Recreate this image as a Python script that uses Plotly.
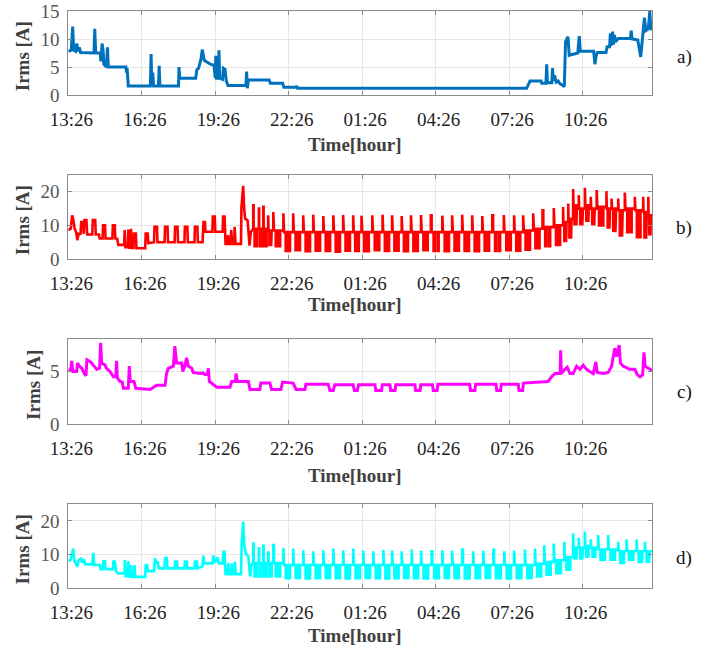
import plotly.graph_objects as go

# Time axis: hours elapsed since 13:26
tick_hours = [0, 3, 6, 9, 12, 15, 18, 21]
tick_labels = ["13:26", "16:26", "19:26", "22:26", "01:26", "04:26", "07:26", "10:26"]
end_hour = 23.83

# a) total current
a_hours = [0.00, 0.12, 0.18, 0.22, 0.30, 0.35, 0.38, 0.45, 0.50, 1.05, 1.08, 1.12, 1.30, 1.33, 1.38,
           1.42, 1.45, 1.55, 1.60, 1.63, 2.35, 2.38, 2.40, 2.45, 3.35, 3.38, 3.41, 3.45, 3.48, 3.68,
           3.71, 3.74, 4.50, 4.52, 4.55, 5.20, 5.25, 5.32, 5.42, 5.47, 5.55, 5.70, 5.80, 5.95, 6.00,
           6.02, 6.05, 6.12, 6.15, 6.18, 6.30, 6.33, 6.40, 6.45, 6.52, 7.25, 7.28, 7.31, 7.35, 8.20,
           8.25, 8.75, 8.80, 9.30, 9.33, 9.36, 18.71, 18.85, 19.30, 19.33, 19.50, 19.53, 19.56, 19.74,
           19.77, 19.80, 19.85, 19.92, 20.00, 20.05, 20.25, 20.30, 20.35, 20.40, 20.45, 20.80, 20.86,
           20.90, 21.45, 21.50, 21.55, 21.60, 21.95, 22.00, 22.10, 22.13, 22.16, 22.22, 22.26, 22.30,
           22.34, 22.45, 22.95, 22.98, 23.02, 23.25, 23.37, 23.45, 23.52, 23.58, 23.68, 23.74, 23.78,
           23.83]
a_amps = [7.8, 8.0, 12.2, 8.0, 7.8, 9.2, 7.8, 8.5, 7.6, 7.5, 11.8, 7.5, 7.5, 6.0, 9.2,
          8.0, 5.5, 5.0, 8.5, 5.0, 5.0, 4.0, 4.8, 1.6, 1.6, 7.3, 1.6, 4.0, 1.6, 1.6,
          5.2, 1.6, 1.6, 5.0, 3.0, 3.0, 4.5, 4.8, 6.5, 8.1, 6.2, 5.8, 5.5, 5.3, 3.0,
          7.0, 3.0, 3.0, 8.0, 3.0, 2.8, 4.8, 4.6, 2.5, 1.7, 1.7, 4.2, 1.2, 2.7, 2.7,
          2.1, 2.1, 1.4, 1.4, 1.6, 1.2, 1.2, 2.5, 2.5, 2.1, 2.1, 5.5, 2.2, 2.2,
          4.8, 2.5, 3.5, 2.3, 2.5, 2.1, 1.5, 9.5, 10.1, 10.4, 7.1, 7.5, 10.5,
          7.8, 7.8, 5.5, 7.0, 7.6, 7.6, 8.6, 8.6, 11.0, 8.8, 11.3, 9.0, 10.7,
          9.5, 10.1, 10.1, 11.5, 10.0, 9.8, 6.8, 10.5, 13.8, 11.5, 11.8, 15.0, 12.0,
          11.6]

# b) phase current, irregular daytime part
b_hours = [0.00, 0.10, 0.16, 0.20, 0.26, 0.32, 0.37, 0.42, 0.50, 0.53, 0.60, 0.63, 0.66, 0.74, 0.77,
           0.98, 1.00, 1.10, 1.12, 1.25, 1.28, 1.40, 1.42, 1.50, 1.52, 1.80, 1.82, 1.90, 1.92, 2.00,
           2.04, 2.28, 2.30, 2.33, 2.43, 2.45, 2.48, 2.54, 2.56, 2.59, 2.66, 2.68, 2.76, 2.78, 3.14,
           3.16, 3.24, 3.27, 3.50, 3.52, 3.62, 3.64, 3.93, 3.95, 4.05, 4.07, 4.34, 4.36, 4.46, 4.48,
           4.74, 4.76, 4.86, 4.88, 5.15, 5.17, 5.27, 5.29, 5.48, 5.50, 5.52, 5.58, 5.60, 5.88, 5.90,
           5.98, 6.00, 6.30, 6.32, 6.38, 6.40, 6.42, 6.50, 6.52, 6.55, 6.63, 6.65, 6.69, 6.77, 6.79,
           6.83, 7.05, 7.07, 7.14, 7.18, 7.22, 7.32, 7.40, 7.45]
b_amps = [8.6, 9.0, 13.0, 12.0, 9.0, 8.0, 5.6, 7.5, 7.5, 11.0, 11.0, 7.5, 11.6, 11.6, 7.3,
          7.3, 11.6, 11.6, 7.3, 7.3, 6.1, 6.1, 10.0, 10.0, 6.1, 6.1, 10.0, 10.0, 6.1, 6.0,
          4.2, 4.2, 8.6, 3.5, 3.5, 8.8, 3.4, 3.4, 9.0, 3.3, 3.3, 7.6, 7.6, 3.2, 3.2,
          7.6, 7.6, 4.7, 5.0, 9.6, 9.6, 5.0, 5.0, 9.6, 9.6, 5.0, 5.0, 9.6, 9.6, 5.0,
          5.0, 9.6, 9.6, 5.0, 5.0, 9.6, 9.6, 5.0, 5.0, 8.1, 11.0, 11.0, 8.1, 8.1, 12.6,
          12.6, 8.1, 8.1, 12.6, 12.6, 8.1, 4.5, 4.5, 7.1, 4.5, 4.5, 8.6, 4.5, 4.5, 9.6,
          4.5, 4.5, 15.5, 21.8, 15.0, 12.0, 11.5, 4.0, 8.0]

# b) switching cycles: peak start, peak level, plateau level, dip level
b_peak_hours = [7.55, 7.78, 7.96, 8.16, 8.37, 8.78, 9.18, 9.59, 10.00, 10.41, 10.82, 11.22, 11.63,
                11.97, 12.41, 12.83, 13.22, 13.61, 13.99, 14.40, 14.80, 15.27, 15.67, 16.08, 16.49,
                16.90, 17.31, 17.78, 18.20, 18.57, 18.98, 19.36, 19.82, 20.20, 20.41, 20.61, 20.84,
                21.09, 21.33, 21.57, 21.97, 22.18, 22.45, 22.72, 23.13, 23.47, 23.68]
b_peak_amps = [16.0, 15.0, 15.5, 13.0, 14.0, 13.6, 13.6,
               13.0, 13.2, 12.8, 13.0, 13.1, 13.0, 12.9, 13.0, 13.2, 13.0, 12.8, 13.0, 13.1, 13.0,
               12.9, 13.0, 13.2, 13.0, 12.8, 13.0, 13.1, 13.0, 13.0,
               13.6, 14.5, 15.2, 15.5, 16.5, 20.8, 19.0, 21.2, 18.5, 20.5, 20.2, 18.0, 18.0, 19.8,
               18.5, 18.5, 18.5]
b_base_amps = [9.0, 9.0, 9.0, 8.5, 8.5,
               8.0, 8.0, 8.0, 8.0, 8.0, 8.0, 8.0, 8.0, 8.0, 8.0, 8.0, 8.0, 8.0, 8.0, 8.0, 8.0,
               8.0, 8.0, 8.0, 8.0, 8.0, 8.0, 8.0, 8.0,
               8.5, 9.0, 9.5, 10.0, 11.0, 12.0,
               16.0, 15.0, 16.0, 15.0, 15.5, 15.0, 15.0, 14.5, 15.0, 14.5, 14.0, 13.0]
b_low_amps = [3.8, 3.8, 3.8, 3.8, 3.8,
              2.4, 2.6, 2.3, 2.5, 2.4, 2.2, 2.5, 2.4, 2.3, 2.6, 2.4, 2.5, 2.3, 2.4, 2.6, 2.4,
              2.3, 2.5, 2.4, 2.3, 2.5, 2.4, 2.6, 2.5,
              2.8, 3.2, 3.8, 4.2, 5.0, 6.0,
              10.0, 10.0, 11.0, 10.0, 10.0, 9.0, 8.0, 6.6, 8.0, 6.5, 6.0, 7.0]

# c) phase current
c_hours = [0.00, 0.10, 0.14, 0.18, 0.34, 0.38, 0.45, 0.55, 0.65, 0.72, 0.76, 0.85, 0.91, 1.02, 1.16,
           1.28, 1.32, 1.36, 1.50, 1.56, 1.70, 1.84, 1.94, 1.97, 2.00, 2.11, 2.20, 2.25, 2.45, 2.49,
           2.53, 2.68, 2.76, 3.34, 3.40, 3.55, 3.61, 3.95, 4.01, 4.08, 4.29, 4.35, 4.42, 4.63, 4.67,
           4.76, 4.83, 4.90, 5.04, 5.10, 5.37, 5.51, 5.58, 5.68, 5.72, 5.76, 5.90, 6.06, 6.60, 6.67,
           6.82, 6.85, 6.90, 7.35, 7.42, 7.82, 7.86, 8.23, 8.30, 8.68, 8.75, 9.18, 9.30, 9.66, 9.70,
           10.61, 10.68, 10.82, 10.88, 11.63, 11.68, 11.80, 11.85, 12.52, 12.55, 12.79, 12.82, 13.13,
           13.16, 13.34, 13.37, 14.15, 14.18, 14.36, 14.39, 14.87, 14.90, 15.06, 15.09, 16.39, 16.42,
           16.60, 16.63, 17.46, 17.49, 17.65, 17.68, 18.37, 18.40, 18.55, 18.58, 19.00, 19.59, 19.73,
           19.87, 20.00, 20.08, 20.10, 20.13, 20.27, 20.37, 20.48, 20.61, 20.75, 20.89, 21.02, 21.16,
           21.29, 21.43, 21.54, 21.59, 21.84, 22.04, 22.18, 22.31, 22.38, 22.49, 22.54, 22.65, 22.92,
           23.13, 23.23, 23.34, 23.45, 23.50, 23.55, 23.68, 23.83]
c_amps = [5.1, 5.2, 6.0, 5.0, 5.0, 5.8, 5.5, 5.3, 4.8, 4.6, 6.1, 6.0, 5.9, 5.6, 5.2,
          5.3, 7.7, 5.8, 5.6, 5.3, 5.0, 4.5, 4.5, 6.0, 4.4, 4.05, 4.0, 3.4, 3.4, 5.5,
          4.05, 4.05, 3.4, 3.3, 3.4, 3.6, 3.7, 3.7, 4.8, 5.3, 5.5, 7.4, 5.8, 5.8, 5.0,
          5.5, 6.3, 5.5, 5.3, 4.9, 4.8, 4.85, 4.7, 4.7, 5.3, 4.05, 3.8, 3.5, 3.5, 4.05,
          4.05, 4.8, 4.05, 4.05, 3.3, 3.3, 3.9, 3.9, 3.3, 3.3, 4.0, 3.9, 3.3, 3.3, 3.8,
          3.8, 3.2, 3.2, 3.75, 3.75, 3.2, 3.2, 3.75, 3.75, 3.2, 3.2, 3.75, 3.75,
          3.2, 3.2, 3.75, 3.75, 3.2, 3.2, 3.75, 3.75, 3.2, 3.2, 3.8, 3.8, 3.2,
          3.2, 3.8, 3.8, 3.2, 3.2, 3.8, 3.8, 3.2, 3.2, 3.9, 3.95, 4.05, 4.5,
          4.8, 4.8, 4.8, 7.0, 4.8, 5.2, 5.4, 4.8, 4.8, 5.5, 5.2, 5.6, 5.2,
          5.0, 4.8, 5.9, 4.9, 4.8, 4.9, 5.5, 7.2, 6.4, 7.5, 5.8, 5.5, 5.2,
          5.2, 4.7, 4.5, 4.7, 6.8, 5.5, 5.3, 5.1]

# d) phase current, irregular daytime part
d_hours = [0.00, 0.10, 0.20, 0.25, 0.30, 0.37, 0.42, 0.52, 0.56, 0.64, 0.70, 0.98, 1.02, 1.06, 1.28,
           1.32, 1.40, 1.43, 1.50, 1.52, 1.82, 1.84, 1.90, 1.95, 2.04, 2.30, 2.31, 2.34, 2.43, 2.45,
           2.48, 2.54, 2.56, 2.60, 2.68, 2.70, 2.74, 3.14, 3.16, 3.22, 3.25, 3.50, 3.54, 3.60, 3.64,
           3.70, 3.92, 3.95, 4.02, 4.05, 4.34, 4.36, 4.44, 4.46, 4.74, 4.76, 4.84, 4.86, 5.15, 5.17,
           5.25, 5.27, 5.48, 5.51, 5.56, 5.88, 5.92, 5.98, 6.10, 6.15, 6.30, 6.33, 6.38, 6.40, 6.42,
           6.50, 6.53, 6.56, 6.65, 6.67, 6.70, 6.78, 6.80, 6.84, 7.05, 7.08, 7.14, 7.18, 7.25, 7.35,
           7.42, 7.48]
d_amps = [8.1, 8.5, 11.8, 8.0, 7.5, 6.4, 8.4, 8.8, 7.6, 8.6, 7.1, 7.1, 10.5, 7.0, 6.9,
          5.7, 5.7, 8.0, 8.0, 5.7, 5.7, 7.9, 7.9, 5.0, 4.4, 4.4, 8.4, 3.6, 3.6, 8.1,
          3.5, 3.5, 6.9, 3.4, 3.4, 6.9, 3.4, 3.4, 6.9, 6.9, 5.1, 5.1, 8.9, 7.5, 8.0,
          5.9, 5.9, 9.0, 9.0, 5.9, 5.9, 7.9, 7.9, 5.9, 5.9, 7.9, 7.9, 5.9, 5.9, 7.9,
          7.9, 5.9, 6.5, 9.7, 7.4, 7.4, 9.7, 7.6, 9.2, 7.4, 7.4, 10.8, 10.8, 7.4, 4.2,
          4.2, 7.4, 4.2, 4.2, 7.4, 4.2, 4.2, 7.9, 4.2, 4.2, 13.3, 19.8, 13.0, 10.3, 9.5,
          3.5, 7.0]

# d) switching cycles
d_peak_hours = [7.55, 7.78, 7.96, 8.16, 8.37, 8.78, 9.18, 9.59, 10.00, 10.41, 10.82, 11.22, 11.63,
                12.04, 12.45, 12.86, 13.22, 13.61, 14.02, 14.40, 14.83, 15.27, 15.67, 16.08, 16.53,
                16.94, 17.35, 17.80, 18.20, 18.64, 19.05, 19.43, 19.82, 20.25, 20.61, 20.84, 21.09,
                21.33, 21.63, 22.04, 22.45, 22.79, 23.20, 23.54]
d_peak_amps = [13.3, 11.8, 12.6, 10.6, 12.8,
               12.0, 11.8, 11.3, 11.0, 11.3, 11.8, 11.3, 11.8,
               11.2, 11.0, 11.4, 11.2, 11.0, 11.5, 11.2, 11.0, 11.3, 11.2, 11.5, 11.0, 11.2, 11.4,
               11.0, 11.2, 11.5,
               11.8, 12.8, 13.3, 13.8, 16.3, 15.0, 16.8, 14.5, 15.8, 15.8, 13.8, 14.5, 14.5, 13.8]
d_base_amps = [7.5, 7.5, 7.5, 7.5, 7.5,
               6.9, 6.9, 6.9, 6.9, 6.9, 6.9, 6.9, 6.9, 6.9, 6.9, 6.9, 6.9, 6.9, 6.9, 6.9, 6.9,
               6.9, 6.9, 6.9, 6.9, 6.9, 6.9, 6.9, 6.9, 6.9,
               7.3, 7.8, 8.3, 9.3, 12.0, 12.0, 12.5, 12.0, 11.5, 11.5, 11.0, 11.0, 11.0, 11.0]
d_low_amps = [3.5, 3.5, 3.5, 3.5, 3.5,
              3.0, 3.1, 2.9, 3.0, 3.1, 3.0, 2.9, 3.0, 3.1, 3.0, 2.9, 3.0, 3.1, 3.0, 2.9, 3.0,
              3.1, 3.0, 2.9, 3.0, 3.1, 3.0, 2.9, 3.0, 3.1,
              3.5, 4.0, 4.5, 5.5, 8.5, 8.5, 9.0, 9.0, 8.5, 8.5, 7.5, 8.5, 7.8, 7.5]


def with_cycles(hours, amps, peak_hours, peak_amps, base_amps, low_amps, stop):
    """Append on/off switching cycles to a recorded segment."""
    n = len(peak_hours)
    assert len(hours) == len(amps)
    assert n == len(peak_amps) == len(base_amps) == len(low_amps)
    t, v = list(hours), list(amps)
    # fraction of the cycle, level key
    pattern = [(0.0, "b"), (0.0, "p"), (0.07, "p"), (0.07, "b"), (0.24, "b"), (0.24, "l"),
               (0.34, "l"), (0.34, "b"), (0.58, "b"), (0.58, "l"), (0.68, "l"), (0.68, "b"),
               (1.0, "b")]
    for i in range(n):
        t0 = peak_hours[i]
        t1 = peak_hours[i + 1] if i + 1 < n else stop
        lv = {"p": peak_amps[i], "b": base_amps[i], "l": low_amps[i]}
        for frac, key in pattern:
            t.append(t0 + frac * (t1 - t0))
            v.append(lv[key])
    return t, v


assert len(a_hours) == len(a_amps)
assert len(c_hours) == len(c_amps)
b_t, b_v = with_cycles(b_hours, b_amps, b_peak_hours, b_peak_amps, b_base_amps, b_low_amps, end_hour)
d_t, d_v = with_cycles(d_hours, d_amps, d_peak_hours, d_peak_amps, d_base_amps, d_low_amps, end_hour)

W, H = 710, 651
serif = "Liberation Serif, Times New Roman, serif"
x_dom = [68.3 / W, 652 / W]
# panel top/bottom in pixels
panels = [
    dict(t=a_hours, v=a_amps, color="#0072BD", top=11, bot=95, yr=[0, 15], yt=[0, 5, 10, 15],
         ytitle_x=22, tag="a)", tag_y=57, time_y=145, lw=3),
    dict(t=b_t, v=b_v, color="#FF0000", top=175, bot=259, yr=[0, 25], yt=[0, 10, 20],
         ytitle_x=22, tag="b)", tag_y=228, time_y=304, lw=2.6),
    dict(t=c_hours, v=c_amps, color="#FF00FF", top=339, bot=424.3, yr=[0, 8.07], yt=[0, 5],
         ytitle_x=34, tag="c)", tag_y=392, time_y=475, lw=3),
    dict(t=d_t, v=d_v, color="#00FFFF", top=504, bot=588.3, yr=[0, 25], yt=[0, 10, 20],
         ytitle_x=22, tag="d)", tag_y=558, time_y=635, lw=2.6),
]

fig = go.Figure()
annotations = []
layout = dict(width=W, height=H, margin=dict(l=0, r=0, t=0, b=0, pad=0), autosize=False,
              paper_bgcolor="white", plot_bgcolor="white", showlegend=False)

frame = dict(showline=True, linecolor="#8c8c8c", linewidth=1, mirror="ticks", ticks="inside",
             ticklen=4, tickcolor="#8c8c8c", showgrid=True, gridcolor="#e6e6e6", gridwidth=1,
             zeroline=False, automargin=False)

for i, p in enumerate(panels, start=1):
    xa = "x" if i == 1 else f"x{i}"
    ya = "y" if i == 1 else f"y{i}"
    fig.add_trace(go.Scatter(x=p["t"], y=p["v"], mode="lines", xaxis=xa, yaxis=ya,
                             line=dict(color=p["color"], width=p["lw"]), hoverinfo="skip"))
    layout[f"xaxis{'' if i == 1 else i}"] = dict(
        frame, domain=x_dom, anchor=ya, range=[0, end_hour], tickmode="array",
        tickvals=tick_hours, ticktext=tick_labels, ticklabelstandoff=7, ticklabelshift=3,
        tickfont=dict(family=serif, size=19, color="#222222"))
    layout[f"yaxis{'' if i == 1 else i}"] = dict(
        frame, domain=[1 - p["bot"] / H, 1 - p["top"] / H], anchor=xa, range=p["yr"],
        tickmode="array", tickvals=p["yt"], ticklabelstandoff=4,
        tickfont=dict(family=serif, size=19, color="#555555"))
    annotations.append(dict(text="<b>Irms [A]</b>", textangle=-90, xref="paper", yref="paper",
                            x=p["ytitle_x"] / W, y=1 - (p["top"] + p["bot"]) / 2 / H - 0.005,
                            xanchor="center", yanchor="middle", showarrow=False,
                            font=dict(family=serif, size=19, color="#404040")))
    annotations.append(dict(text="<b>Time[hour]</b>", xref="paper", yref="paper",
                            x=354.5 / W, y=1 - p["time_y"] / H, xanchor="center",
                            yanchor="middle", showarrow=False,
                            font=dict(family=serif, size=19, color="#404040")))
    annotations.append(dict(text=p["tag"], xref="paper", yref="paper", x=684 / W,
                            y=1 - p["tag_y"] / H, xanchor="center", yanchor="middle",
                            showarrow=False, font=dict(family=serif, size=19, color="#111111")))

layout["annotations"] = annotations
fig.update_layout(**layout)
fig.write_html("out.html")
